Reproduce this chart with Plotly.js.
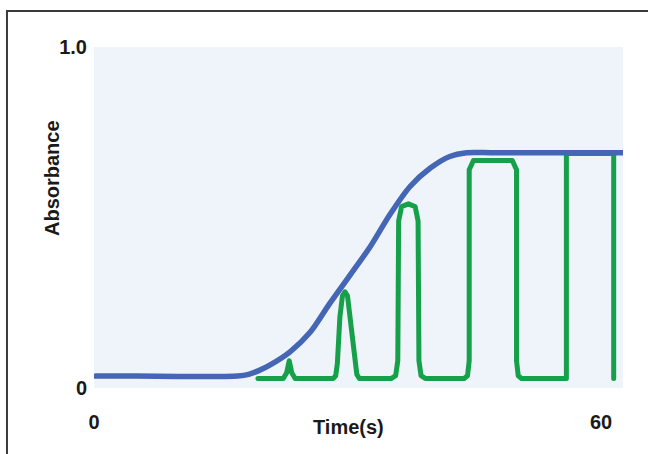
<!DOCTYPE html>
<html>
<head>
<meta charset="utf-8">
<script src="https://cdn.plot.ly/plotly-3.0.1.min.js"></script>
<style>
html,body{margin:0;padding:0;background:#fff;}
#chart{width:648px;height:454px;}
#chart path.js-line{stroke-linejoin:round;stroke-linecap:round;}
</style>
</head>
<body>
<div id="chart"></div>
<script>
// Blue curve (sigmoid absorbance)
const blueTime = [0.2, 5, 10, 15, 17.0, 18.3, 19.5, 20.8, 23.2, 25.6, 27.9, 30.3, 32.7, 35.0, 37.4, 39.8, 42.1, 44.1, 47, 52, 57, 62.6];
const blueAbs  = [0.035, 0.035, 0.034, 0.034, 0.035, 0.040, 0.051, 0.067, 0.106, 0.164, 0.248, 0.331, 0.415, 0.508, 0.591, 0.645, 0.679, 0.69, 0.69, 0.69, 0.69, 0.69];

// Green curve (peaks)
const greenTime = [19.4, 22.4, 22.8, 23.1, 23.4, 23.8,
  28.3, 28.6, 28.8, 29.1, 29.4, 29.7, 30.0, 30.3, 30.8, 31.1, 31.4,
  35.2, 35.7, 35.95, 36.05, 36.4, 37.2, 38.0, 38.35, 38.45, 38.7, 39.2,
  43.8, 44.2, 44.4, 44.4, 44.9, 49.5, 50.0, 50.0, 50.2, 50.6,
  55.9, 55.9, 61.5, 61.5];
const greenAbs = [0.028, 0.028, 0.045, 0.08, 0.045, 0.028,
  0.028, 0.036, 0.072, 0.209, 0.27, 0.282, 0.27, 0.209, 0.092, 0.04, 0.028,
  0.028, 0.036, 0.08, 0.49, 0.532, 0.54, 0.532, 0.49, 0.08, 0.036, 0.028,
  0.028, 0.036, 0.08, 0.64, 0.667, 0.667, 0.64, 0.08, 0.036, 0.028,
  0.028, 0.688, 0.688, 0.028];

const xTickVals = [0, 60];
const xTickText = ['0', '60'];
const yTickVals = [0, 1];
const yTickText = ['0', '1.0'];

const FONT = {family: 'Liberation Sans, Arial, sans-serif', size: 20, color: '#1a1a1a', weight: 700};

const traces = [
  {x: greenTime, y: greenAbs, type: 'scatter', mode: 'lines',
   line: {color: '#16a04a', width: 5, shape: 'linear'}, hoverinfo: 'skip'},
  {x: blueTime, y: blueAbs, type: 'scatter', mode: 'lines',
   line: {color: '#4466b4', width: 5.5, shape: 'spline', smoothing: 0.8}, hoverinfo: 'skip'}
];

const layout = {
  width: 648, height: 454,
  margin: {l: 94, r: 25, t: 47, b: 66, pad: 0},
  paper_bgcolor: '#ffffff',
  plot_bgcolor: '#eef4fa',
  showlegend: false,
  font: FONT,
  xaxis: {range: [0, 62.6], tickvals: xTickVals, ticktext: xTickText, showgrid: false,
          zeroline: false, showline: false, ticks: '', tickfont: FONT, ticklabelstandoff: 20, fixedrange: true},
  yaxis: {range: [0, 1], tickvals: yTickVals, ticktext: yTickText, showgrid: false,
          zeroline: false, showline: false, ticks: '', tickfont: FONT, ticklabelstandoff: 6, fixedrange: true},
  annotations: [
    {text: 'Time(s)', xref: 'paper', yref: 'paper', x: 0.482, y: -0.114,
     xanchor: 'center', yanchor: 'middle', showarrow: false, font: FONT},
    {text: 'Absorbance', xref: 'paper', yref: 'paper', x: -0.0794, y: 0.6158,
     xanchor: 'center', yanchor: 'middle', showarrow: false, textangle: -90, font: FONT}
  ],
  shapes: [
    {type: 'rect', xref: 'paper', yref: 'paper', x0: -0.1645, x1: 1.2, y0: -0.4, y1: 1.1056,
     line: {color: '#3a3a3a', width: 2}, fillcolor: 'rgba(0,0,0,0)'}
  ]
};

Plotly.newPlot('chart', traces, layout, {staticPlot: true, displayModeBar: false});
</script>
</body>
</html>
